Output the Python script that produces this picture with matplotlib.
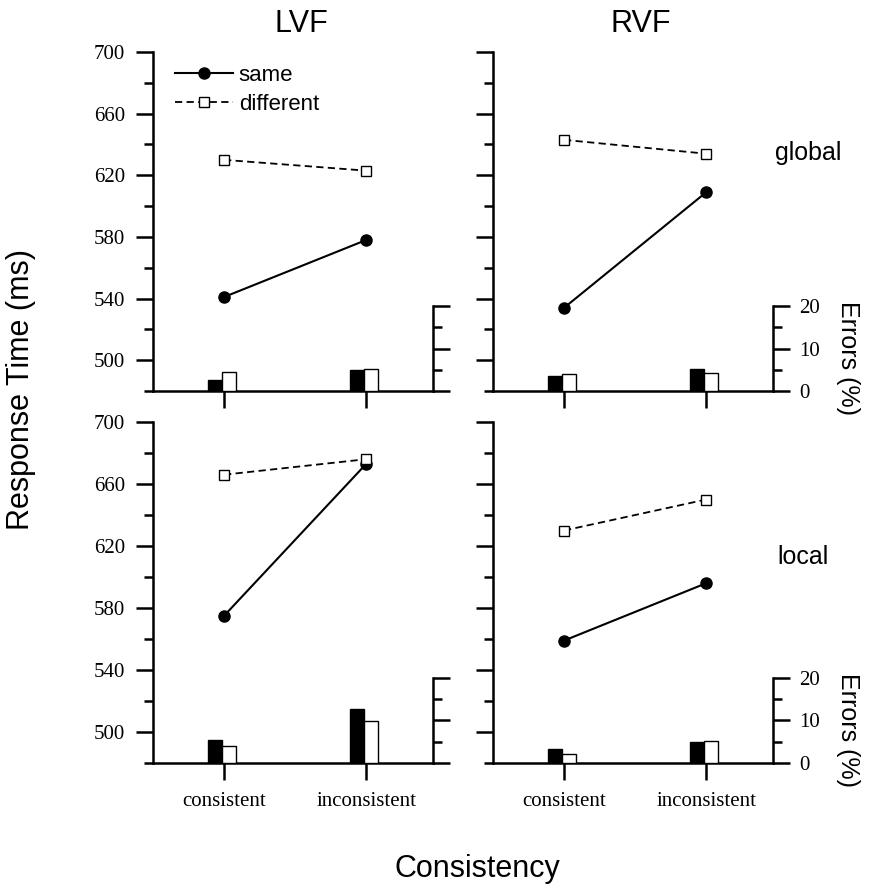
import numpy as np
import matplotlib
matplotlib.use("Agg")
import matplotlib.pyplot as plt
from matplotlib.lines import Line2D

conds = ["consistent", "inconsistent"]

# response times (ms)
lvf_global_same = [541, 578]
lvf_global_diff = [630, 623]
rvf_global_same = [534, 609]
rvf_global_diff = [643, 634]
lvf_local_same = [575, 673]
lvf_local_diff = [666, 676]
rvf_local_same = [559, 596]
rvf_local_diff = [630, 650]

# errors (%)
lvf_global_err_same = [2.6, 5.0]
lvf_global_err_diff = [4.6, 5.2]
rvf_global_err_same = [3.6, 5.3]
rvf_global_err_diff = [4.0, 4.2]
lvf_local_err_same = [5.3, 12.6]
lvf_local_err_diff = [4.0, 9.9]
rvf_local_err_same = [3.2, 5.0]
rvf_local_err_diff = [2.0, 5.1]

serif = "Liberation Serif"
sans = "Liberation Sans"
lw_ax = 1.8

fig = plt.figure(figsize=(8.7, 8.86), dpi=100)

panels = [
    # left, bottom, height, same, diff, err_same, err_diff, is_left, is_bottom
    (0.1759, 0.5587, 0.3826, lvf_global_same, lvf_global_diff, lvf_global_err_same, lvf_global_err_diff, True, False),
    (0.5667, 0.5587, 0.3826, rvf_global_same, rvf_global_diff, rvf_global_err_same, rvf_global_err_diff, False, False),
    (0.1759, 0.1388, 0.3849, lvf_local_same, lvf_local_diff, lvf_local_err_same, lvf_local_err_diff, True, True),
    (0.5667, 0.1388, 0.3849, rvf_local_same, rvf_local_diff, rvf_local_err_same, rvf_local_err_diff, False, True),
]

x = np.arange(len(conds))
bw = 0.1

for i, (l, b, h, same, diff, es, ed, is_left, is_bottom) in enumerate(panels):
    ax = fig.add_axes([l, b, 0.3218, h])
    ax.set_xlim(-0.5, 1.47)
    ax.set_ylim(480, 700)
    for s in ["top", "right"]:
        ax.spines[s].set_visible(False)
    for s in ["left", "bottom"]:
        ax.spines[s].set_linewidth(lw_ax)

    ax.set_yticks(np.arange(500, 701, 40))
    ax.set_yticks(np.arange(480, 700, 40), minor=True)
    ax.tick_params(axis="y", which="major", length=12, width=lw_ax, direction="out", pad=8)
    ax.tick_params(axis="y", which="minor", length=6.5, width=lw_ax, direction="out")
    ax.set_xticks(x)
    ax.set_xticklabels(conds)
    ax.tick_params(axis="x", length=12, width=lw_ax, direction="out", pad=9)
    for t in ax.get_xticklabels() + ax.get_yticklabels():
        t.set_fontfamily(serif)
        t.set_fontsize(15)
    if not is_left:
        ax.tick_params(axis="y", labelleft=False)
    if not is_bottom:
        ax.tick_params(axis="x", labelbottom=False)

    ax.plot(x, same, "-", color="k", lw=1.5, marker="o", ms=8, mfc="k", mec="k", zorder=3)
    ax.plot(x, diff, color="k", lw=1.3, ls=(0, (4, 2.4)), marker="s", ms=7, mfc="white",
            mec="k", mew=1.0, zorder=4)

    # errors on a small right axis
    ax2 = ax.twinx()
    ax2.set_ylim(0, 80)
    for s in ["top", "left", "bottom"]:
        ax2.spines[s].set_visible(False)
    ax2.spines["right"].set_linewidth(lw_ax)
    ax2.spines["right"].set_bounds(0, 20)
    ax2.set_yticks([0, 10, 20])
    ax2.set_yticks([5, 15], minor=True)
    ax2.tick_params(axis="y", which="major", length=12, width=lw_ax, direction="out", pad=7)
    ax2.tick_params(axis="y", which="minor", length=6.5, width=lw_ax, direction="out")
    for t in ax2.get_yticklabels():
        t.set_fontfamily(serif)
        t.set_fontsize(15)
    if is_left:
        ax2.tick_params(axis="y", labelright=False)
    ax2.bar(x - 0.065, es, bw, color="k", edgecolor="k", lw=1.0)
    ax2.bar(x + 0.035, ed, bw, color="white", edgecolor="k", lw=1.0)

    if i == 0:
        handles = [
            Line2D([], [], color="k", lw=1.5, marker="o", ms=8, mfc="k", mec="k"),
            Line2D([], [], color="k", lw=1.3, ls=(0, (4, 2.4)), marker="s", ms=7,
                   mfc="white", mec="k", mew=1.0),
        ]
        ax.legend(handles, ["same", "different"], loc="upper left",
                  bbox_to_anchor=(0.08, 0.962), frameon=False, borderpad=0,
                  borderaxespad=0, handlelength=2.6, handletextpad=0.25,
                  labelspacing=0.35, prop={"family": sans, "size": 16})

fig.text(0.346, 0.964, "LVF", ha="center", va="baseline", family=sans, fontsize=22)
fig.text(0.737, 0.964, "RVF", ha="center", va="baseline", family=sans, fontsize=22)
fig.text(0.891, 0.827, "global", ha="left", va="center", family=sans, fontsize=18)
fig.text(0.893, 0.371, "local", ha="left", va="center", family=sans, fontsize=18)
fig.text(0.975, 0.596, "Errors (%)", ha="center", va="center", rotation=270,
         family=sans, fontsize=18)
fig.text(0.975, 0.176, "Errors (%)", ha="center", va="center", rotation=270,
         family=sans, fontsize=18)
fig.text(0.024, 0.56, "Response Time (ms)", ha="center", va="center", rotation=90,
         family=sans, fontsize=22)
fig.text(0.549, 0.0102, "Consistency", ha="center", va="baseline", family=sans, fontsize=22)

fig.savefig("out.png", dpi=100)
